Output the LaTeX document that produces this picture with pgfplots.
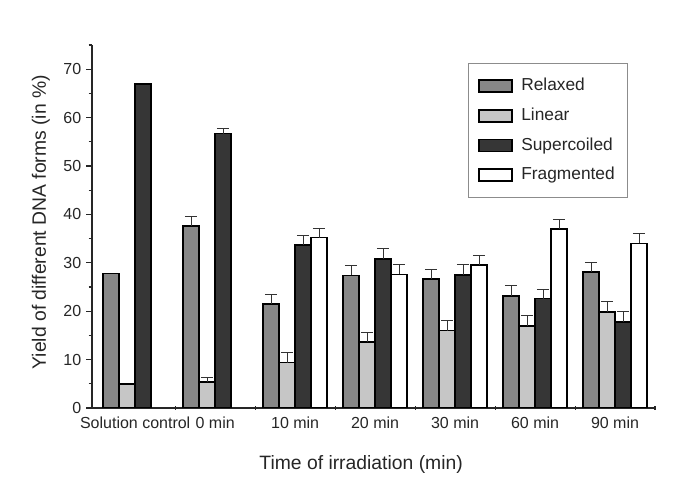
\documentclass[border=0pt]{standalone}
\usepackage{fontspec}
\setmainfont{Liberation Sans}
\usepackage{pgfplots}
\pgfplotsset{compat=1.18}

\definecolor{relaxed}{HTML}{878787}
\definecolor{linear}{HTML}{C6C6C6}
\definecolor{supercoiled}{HTML}{363636}
\definecolor{fragmented}{HTML}{FFFFFF}

\begin{document}
\begin{tikzpicture}
\useasboundingbox (0,0) rectangle (508.5pt,366pt);
\begin{axis}[
  at={(69pt,60pt)}, anchor=south west,
  scale only axis,
  width=422.25pt, height=272.25pt,
  xmin=-0.04, xmax=7, ymin=0, ymax=75,
  axis x line*=bottom, axis y line*=left,
  axis line style={-, line width=0.8pt, black!85},
  ybar, bar width=0.2,
  xtick={0.5,1.5,2.5,3.5,4.5,5.5,6.5},
  xticklabels={Solution control,0 min,10 min,20 min,30 min,60 min,90 min},
  minor xtick={1,2,3,4,5,6,7},
  major x tick style={draw=none},
  minor x tick style={line width=0.8pt, black!85},
  xtick align=center,
  ytick={0,10,...,70},
  minor ytick={5,15,...,75},
  ytick align=outside,
  major y tick style={line width=0.8pt, black!85},
  minor y tick style={line width=0.8pt, black!85},
  major tick length=4.5pt,
  minor tick length=2.5pt,
  tick label style={font=\fontsize{12}{14}\selectfont, text=black!85},
  /pgf/number format/assume math mode=true,
  xticklabel style={yshift=-1pt},
  xlabel={Time of irradiation (min)},
  ylabel={Yield of different DNA forms (in \%)},
  label style={font=\fontsize{14.5}{17}\selectfont, text=black!85},
  xlabel style={at={(axis description cs:0.478,-0.157)}, anchor=center},
  ylabel style={at={(axis description cs:-0.0906,0.512)}, anchor=center, rotate=0},
  every axis plot/.append style={draw=black, line width=1.2pt},
  legend cell align=left,
  legend image code/.code={
    \draw[#1, line width=1.2pt] (0pt,-4.5pt) rectangle (24.75pt,4.5pt);
    \path[draw=none, fill=none] (0pt,0pt) -- (29.5pt,0pt);
  },
  legend style={
    at={(rel axis cs:0.668,0.95)}, anchor=north west,
    draw=black!45, line width=0.6pt, fill=white,
    font=\fontsize{13}{15}\selectfont, text=black!85,
    inner xsep=7.5pt, inner ysep=9pt, row sep=6.2pt,
    nodes={text height=9.5pt, text depth=2.5pt, inner sep=2pt},
  },
  errplot/.style={
    error bars/y dir=plus,
    error bars/y explicit,
    error bars/error bar style={line width=0.6pt, black!80},
    error bars/error mark options={line width=0.6pt, black!80, mark size=4.7pt, rotate=90},
  },
]
% Irradiated samples, with upper error bars
% Relaxed
\addplot[fill=relaxed, bar shift=-0.3, errplot]
  coordinates {
    (1.5,37.6) +- (0,2.0)
    (2.5,21.5) +- (0,1.9)
    (3.5,27.4) +- (0,2.1)
    (4.5,26.6) +- (0,2.0)
    (5.5,23.1) +- (0,2.2)
    (6.5,28.1) +- (0,2.0)
  };
% Linear
\addplot[fill=linear, bar shift=-0.1, errplot]
  coordinates {
    (1.5,5.4) +- (0,1.0)
    (2.5,9.4) +- (0,2.0)
    (3.5,13.6) +- (0,2.0)
    (4.5,16.0) +- (0,2.0)
    (5.5,17.0) +- (0,2.1)
    (6.5,19.8) +- (0,2.2)
  };
% Supercoiled
\addplot[fill=supercoiled, bar shift=0.1, errplot]
  coordinates {
    (1.5,56.7) +- (0,1.1)
    (2.5,33.7) +- (0,2.0)
    (3.5,30.8) +- (0,2.2)
    (4.5,27.5) +- (0,2.2)
    (5.5,22.6) +- (0,1.9)
    (6.5,17.8) +- (0,2.1)
  };
% Fragmented (not present before irradiation)
\addplot[fill=fragmented, bar shift=0.3, errplot]
  coordinates {
    (2.5,35.2) +- (0,2.0)
    (3.5,27.6) +- (0,2.1)
    (4.5,29.5) +- (0,2.0)
    (5.5,37.0) +- (0,2.0)
    (6.5,34.0) +- (0,2.1)
  };
\legend{Relaxed,Linear,Supercoiled,Fragmented}
% Solution control, no error bars
\addplot[fill=relaxed, bar shift=-0.3, forget plot] coordinates {(0.5,27.8)};
\addplot[fill=linear, bar shift=-0.1, forget plot] coordinates {(0.5,4.9)};
\addplot[fill=supercoiled, bar shift=0.1, forget plot] coordinates {(0.5,67.0)};
\end{axis}
\end{tikzpicture}
\end{document}
